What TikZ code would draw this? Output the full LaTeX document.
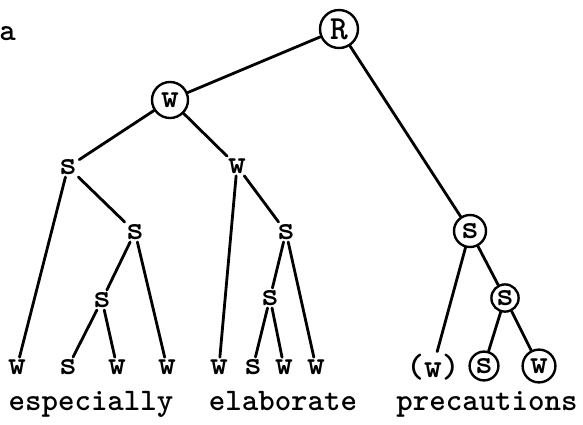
\documentclass[tikz,border=0pt]{standalone}
\tikzset{
  lbl/.style={font=\fontsize{24}{24}\selectfont\ttfamily\bfseries, inner sep=1.5pt},
  ring/.style={lbl, draw, circle, line width=1.7pt, inner sep=0pt},
  word/.style={font=\fontsize{22.3}{22}\selectfont\ttfamily\bfseries, anchor=base},
  branch/.style={line width=2pt, line cap=round},
}
\begin{document}
\begin{tikzpicture}[x=0.025cm, y=-0.025cm]
  \useasboundingbox (0,0) rectangle (583,424);
  % tag
  \node[word, anchor=base west, inner sep=0pt] (tag) at (-1,40) {a};

  % upper nodes
  \node[ring, minimum size=0.95cm] (R) at (339,29) {R};
  \node[ring, minimum size=0.9cm] (W) at (170,100) {w};
  \node[lbl] (sL) at (68,167) {s};
  \node[lbl] (wM) at (237,166) {w};
  \node[lbl] (sA) at (135,232) {s};
  \node[lbl] (sB) at (102,300) {s};
  \node[lbl] (sC) at (286,232) {s};
  \node[lbl] (sD) at (270,298) {s};
  \node[ring, minimum size=0.8cm] (sR) at (470,231) {s};
  \node[ring, minimum size=0.68cm] (sRR) at (505,298) {s};

  % leaves
  \node[lbl] (l1) at (17,367) {w};
  \node[lbl] (l2) at (68,367) {s};
  \node[lbl] (l3) at (117,367) {w};
  \node[lbl] (l4) at (167,367) {w};
  \node[lbl] (l5) at (219,367) {w};
  \node[lbl] (l6) at (253,367) {s};
  \node[lbl] (l7) at (284,367) {w};
  \node[lbl] (l8) at (316,367) {w};
  \node[lbl] (l9) at (433,367) {(w)};
  \node[ring, minimum size=0.72cm] (l10) at (484,366) {s};
  \node[ring, minimum size=0.82cm] (l11) at (539,366) {w};

  % words
  \node[word] (w1) at (91,410) {especially};
  \node[word] (w2) at (283,410) {elaborate};
  \node[word] (w3) at (487,410) {precautions};

  % branches
  \draw[branch] (R) -- (W);
  \draw[branch] (R) -- (sR);
  \draw[branch] (W) -- (sL);
  \draw[branch] (W) -- (wM);
  \draw[branch] (sL) -- (l1);
  \draw[branch] (sL) -- (sA);
  \draw[branch] (sA) -- (sB);
  \draw[branch] (sA) -- (l4);
  \draw[branch] (sB) -- (l2);
  \draw[branch] (sB) -- (l3);
  \draw[branch] (wM) -- (l5);
  \draw[branch] (wM) -- (sC);
  \draw[branch] (sC) -- (sD);
  \draw[branch] (sC) -- (l8);
  \draw[branch] (sD) -- (l6);
  \draw[branch] (sD) -- (l7);
  \draw[branch] (sR) -- (l9);
  \draw[branch] (sR) -- (sRR);
  \draw[branch] (sRR) -- (l10);
  \draw[branch] (sRR) -- (l11);
\end{tikzpicture}
\end{document}
